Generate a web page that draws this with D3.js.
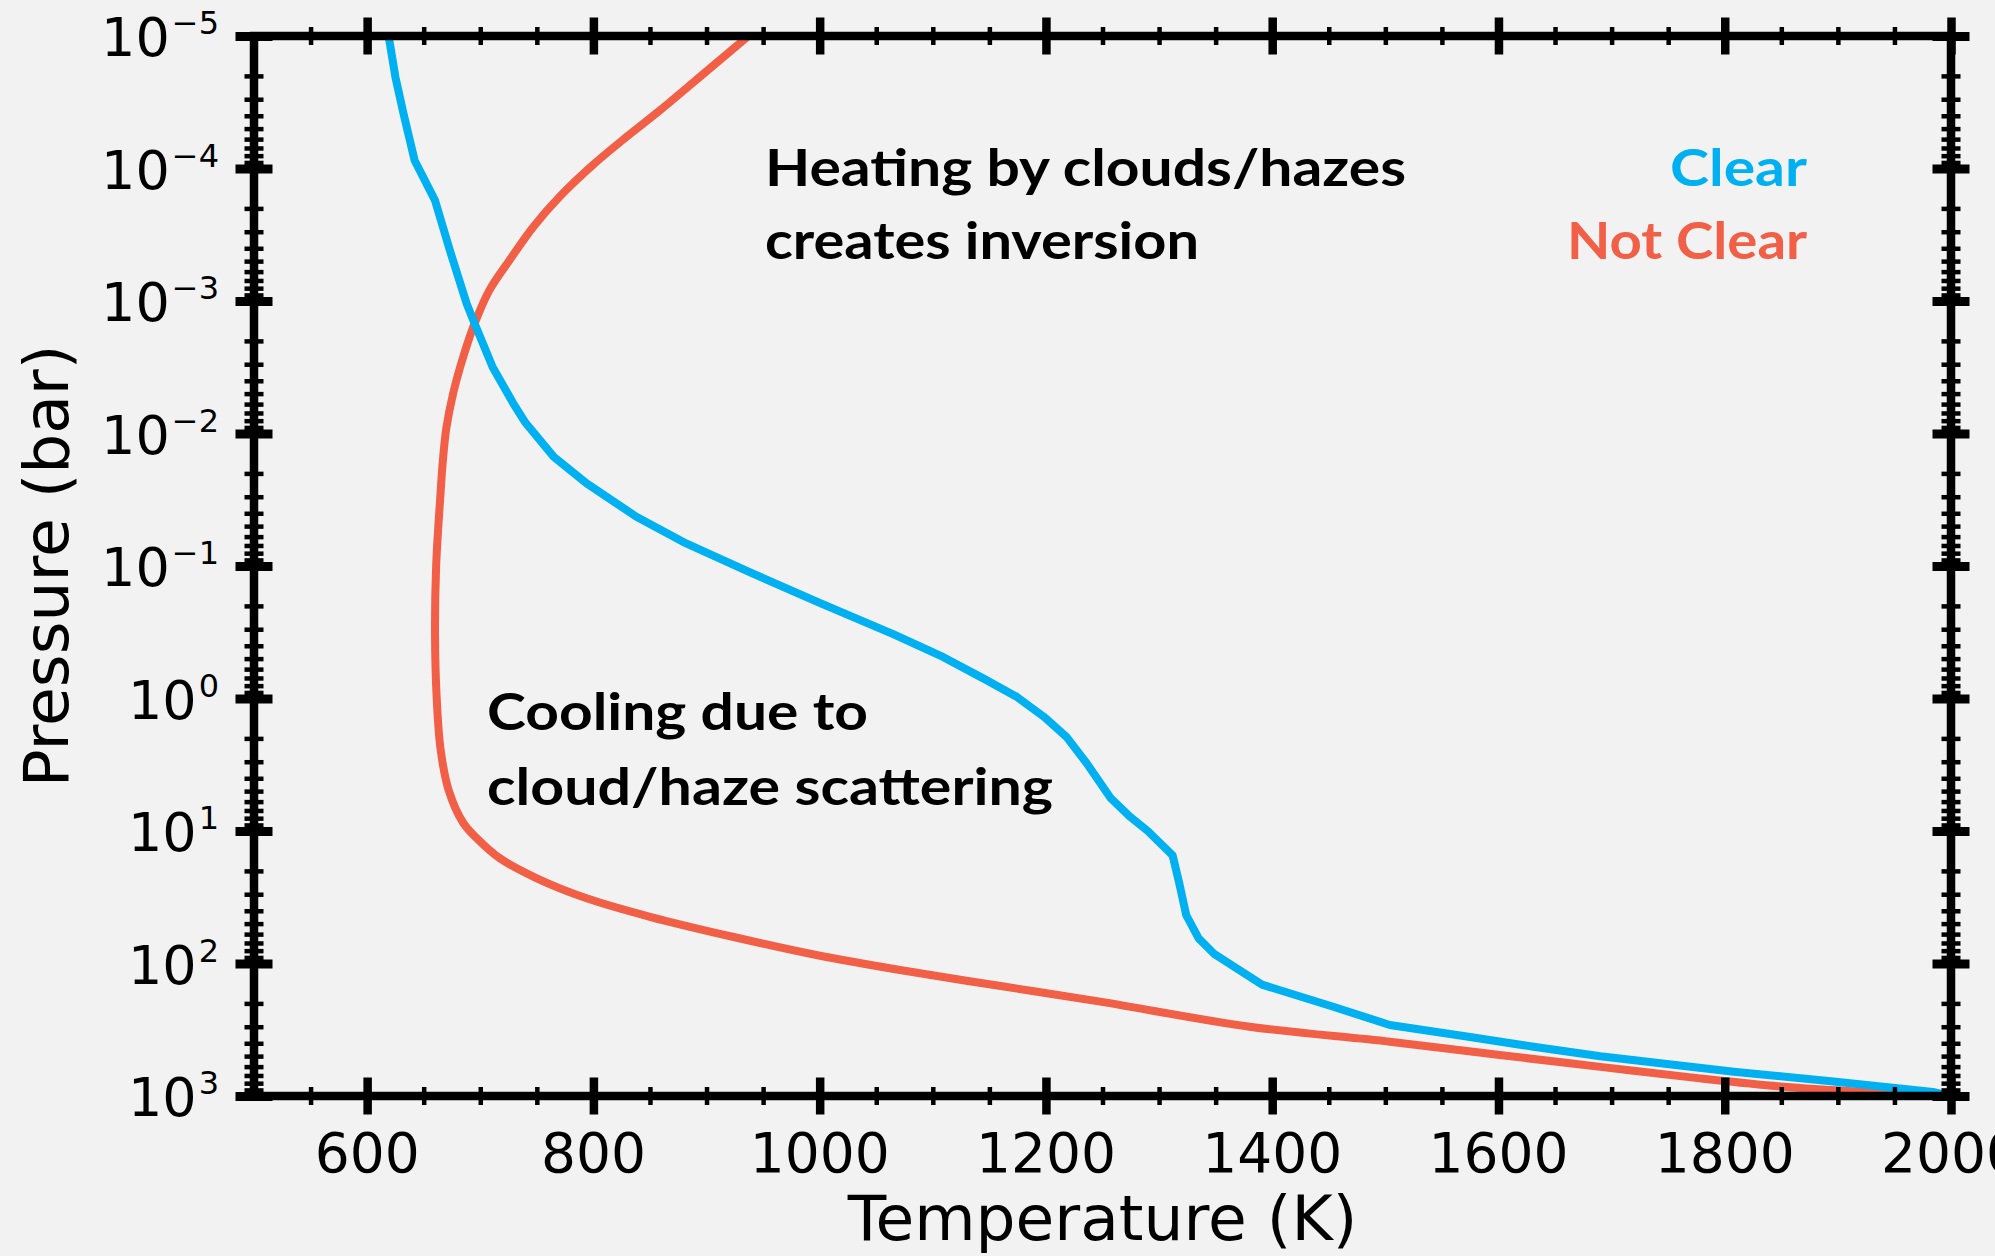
<!DOCTYPE html>
<html>
<head>
<meta charset="utf-8">
<script src="https://cdn.jsdelivr.net/npm/d3@7"></script>
<style>
  html, body { margin: 0; padding: 0; background: #f2f2f2; }
  svg { display: block; }
</style>
</head>
<body>
<svg id="chart" width="1995" height="1256"></svg>
<script>
// Temperature–pressure profiles (temperature in K, pressure in bar)
const clearTemperature = [619, 625, 632, 642, 660, 673, 688, 695, 711, 729, 740, 765, 794, 838, 882, 941,
  1000, 1065, 1109, 1145, 1174, 1198, 1218, 1236, 1257, 1274, 1290, 1312, 1318, 1324, 1335, 1349,
  1391, 1454, 1504, 1572, 1631, 1690, 1808, 1896, 1984, 2000];
const clearPressure = [1.0e-5, 2.04e-5, 3.8e-5, 8.7e-5, 1.74e-4, 4.12e-4, 1.05e-3, 1.48e-3, 3.16e-3, 5.89e-3,
  8.3e-3, 1.5e-2, 2.38e-2, 4.25e-2, 6.76e-2, 0.114, 0.19, 0.327, 0.486, 0.708, 0.968, 1.37, 1.94, 3.08,
  5.62, 7.76, 10.0, 15.3, 25.1, 43.2, 64.6, 85.1, 144.5, 212, 291, 356, 425, 501, 655, 776, 933, 1000];

const hazyTemperature = [937, 903, 859, 829.5, 800, 770.5, 747, 726, 708, 695, 685, 676, 670, 667, 664.5,
  661, 660, 661.5, 665, 672, 685, 697, 717.5, 750, 794, 850, 924, 997, 1071, 1160, 1248, 1380, 1504,
  1601, 1690, 1778, 1852, 1926, 2000];
const hazyPressure = [1.0e-5, 1.754e-5, 3.63e-5, 5.75e-5, 9.33e-5, 1.62e-4, 2.75e-4, 4.9e-4, 8.32e-4,
  1.48e-3, 2.63e-3, 5.0e-3, 9.1e-3, 1.58e-2, 3.16e-2, 0.1, 0.316, 1.0, 2.45, 4.9, 8.7, 11.35, 16.1,
  22.75, 32.2, 44.4, 63.1, 86.3, 112, 148, 194, 300, 389, 490, 603, 736, 851, 933, 1000];

const seriesNames = ["Clear", "Not Clear"];
const temperatureTicks = [600, 800, 1000, 1200, 1400, 1600, 1800, 2000];
const pressureExponents = [-5, -4, -3, -2, -1, 0, 1, 2, 3];
const heatingNote = ["Heating by clouds/hazes", "creates inversion"];
const coolingNote = ["Cooling due to", "cloud/haze scattering"];
const axisTitles = ["Temperature (K)", "Pressure (bar)"];

// ---- layout & style ----
const plot = { left: 254, right: 1951, top: 36, bottom: 1096 };
const colors = { clear: "#00b0f0", hazy: "#f25f47", ink: "#000" };
const tickFont = "'DejaVu Sans', sans-serif";
const noteFont = "Lato, 'Open Sans', sans-serif";

const svg = d3.select("#chart");
svg.append("rect").attr("width", 1995).attr("height", 1256).attr("fill", "#f2f2f2");

const x = d3.scaleLinear().domain([500, 2000]).range([plot.left, plot.right]);
const y = d3.scaleLog().domain([1e-5, 1e3]).range([plot.top, plot.bottom]);

// clip region for the profiles
svg.append("defs").append("clipPath").attr("id", "plotClip")
  .append("rect")
  .attr("x", plot.left).attr("y", plot.top)
  .attr("width", plot.right - plot.left).attr("height", plot.bottom - plot.top);

const clearLine = d3.line().x(d => x(d[0])).y(d => y(d[1]));
const hazyLine = d3.line().x(d => x(d[0])).y(d => y(d[1])).curve(d3.curveCatmullRom.alpha(0.5));
const clearProfile = clearTemperature.map((t, i) => [t, clearPressure[i]]);
const hazyProfile = hazyTemperature.map((t, i) => [t, hazyPressure[i]]);

const lines = svg.append("g").attr("clip-path", "url(#plotClip)");
lines.append("path").datum(hazyProfile)
  .attr("d", hazyLine).attr("fill", "none").attr("stroke", colors.hazy)
  .attr("stroke-width", 8).attr("stroke-linejoin", "round");
lines.append("path").datum(clearProfile)
  .attr("d", clearLine).attr("fill", "none").attr("stroke", colors.clear)
  .attr("stroke-width", 8).attr("stroke-linejoin", "round");

// ---- ticks (drawn through the axis on every side) ----
const minorTemps = d3.range(550, 2000, 50).filter(v => v % 200 !== 0);
const majorPressures = pressureExponents.map(e => Math.pow(10, e));
const minorPressures = [];
pressureExponents.slice(0, -1).forEach(e => {
  for (let k = 2; k <= 9; k++) minorPressures.push(k * Math.pow(10, e));
});

function horizontalTicks(yPos, values, half, width) {
  const g = svg.append("g").attr("transform", `translate(0,${yPos})`)
    .call(d3.axisBottom(x).tickValues(values).tickSize(half).tickFormat(""));
  g.select(".domain").remove();
  g.selectAll(".tick line").attr("y1", -half).attr("y2", half)
    .attr("stroke", colors.ink).attr("stroke-width", width);
  return g;
}
function verticalTicks(xPos, values, half, width) {
  const g = svg.append("g").attr("transform", `translate(${xPos},0)`)
    .call(d3.axisLeft(y).tickValues(values).tickSize(half).tickFormat(""));
  g.select(".domain").remove();
  g.selectAll(".tick line").attr("x1", -half).attr("x2", half)
    .attr("stroke", colors.ink).attr("stroke-width", width);
  return g;
}

[plot.top, plot.bottom].forEach(yy => {
  horizontalTicks(yy, minorTemps, 9, 4.5);
  horizontalTicks(yy, temperatureTicks, 18.5, 8.5);
});
[plot.left, plot.right].forEach(xx => {
  verticalTicks(xx, minorPressures, 9.5, 4.5);
  verticalTicks(xx, majorPressures, 18.5, 9);
});

// spines
svg.append("rect")
  .attr("x", plot.left).attr("y", plot.top)
  .attr("width", plot.right - plot.left).attr("height", plot.bottom - plot.top)
  .attr("fill", "none").attr("stroke", colors.ink).attr("stroke-width", 8.5);

// ---- tick labels ----
svg.append("g").selectAll("text").data(temperatureTicks).join("text")
  .attr("x", d => x(d)).attr("y", 1172)
  .attr("text-anchor", "middle")
  .attr("font-family", tickFont).attr("font-size", 55).attr("fill", colors.ink)
  .text(d => String(d));

const yLabels = svg.append("g").selectAll("text").data(pressureExponents).join("text")
  .attr("x", 219).attr("y", d => y(Math.pow(10, d)) + 20)
  .attr("text-anchor", "end")
  .attr("font-family", tickFont).attr("font-size", 54).attr("fill", colors.ink);
yLabels.append("tspan").text("10");
yLabels.append("tspan").attr("dy", -22).attr("dx", 2).attr("font-size", 32)
  .text(d => (d < 0 ? "\u2212" + Math.abs(d) : String(d)));

// axis titles
svg.append("text")
  .attr("x", (plot.left + plot.right) / 2).attr("y", 1240)
  .attr("text-anchor", "middle")
  .attr("font-family", tickFont).attr("font-size", 63).attr("fill", colors.ink)
  .text(axisTitles[0]);
svg.append("text")
  .attr("transform", `translate(68,${(plot.top + plot.bottom) / 2}) rotate(-90)`)
  .attr("text-anchor", "middle")
  .attr("font-family", tickFont).attr("font-size", 63).attr("fill", colors.ink)
  .text(axisTitles[1]);

// ---- annotations (wide geometric look: glyphs stretched to the set run length) ----
function label(txt, xPos, yPos, anchor, fill, runLength) {
  svg.append("text")
    .attr("x", xPos).attr("y", yPos)
    .attr("text-anchor", anchor)
    .attr("font-family", noteFont).attr("font-weight", 700)
    .attr("font-size", 52).attr("fill", fill)
    .attr("textLength", runLength).attr("lengthAdjust", "spacingAndGlyphs")
    .text(txt);
}
label(heatingNote[0], 765, 186, "start", colors.ink, 641);
label(heatingNote[1], 765, 259, "start", colors.ink, 434);
label(coolingNote[0], 487, 730, "start", colors.ink, 381);
label(coolingNote[1], 487, 805, "start", colors.ink, 566);
label(seriesNames[0], 1807, 186, "end", colors.clear, 137);
label(seriesNames[1], 1807, 259, "end", colors.hazy, 240);
</script>
</body>
</html>
